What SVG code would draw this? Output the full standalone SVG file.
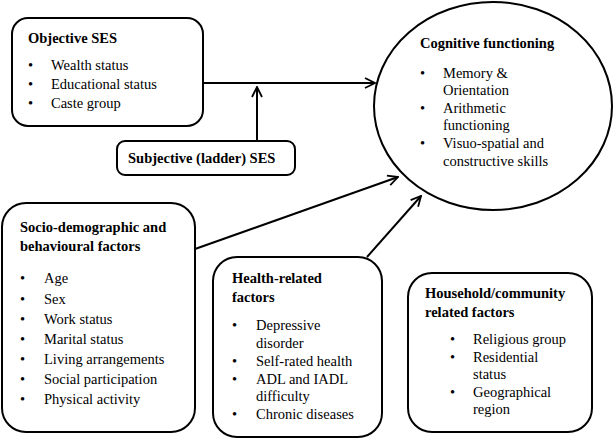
<svg xmlns="http://www.w3.org/2000/svg" width="616" height="440" viewBox="0 0 616 440">
<style>
.box{fill:#fff;stroke:#000;stroke-width:2}
text.lbl{font-family:'Liberation Serif',serif !important;font-size:14.5px;fill:#000}
text.bd{font-weight:bold}
.con{stroke:#000;stroke-width:2;fill:none}
</style>
<defs>
<marker id="arr" viewBox="0 0 12 12" refX="11" refY="6" markerWidth="12" markerHeight="12" markerUnits="userSpaceOnUse" orient="auto">
<path d="M1,1 L11,6 L1,11" fill="none" stroke="#000" stroke-width="1.8"/>
</marker>
</defs>
<rect width="616" height="440" fill="#fff"/>
<g id="connectors">
<line class="con" x1="203" y1="83" x2="375" y2="83" marker-end="url(#arr)"/>
<line class="con" x1="257" y1="141" x2="257" y2="87" marker-end="url(#arr)"/>
<line class="con" x1="195" y1="249" x2="398" y2="177" marker-end="url(#arr)"/>
<line class="con" x1="367" y1="257" x2="421" y2="196" marker-end="url(#arr)"/>
</g>
<g id="objective-ses">
<rect class="box" x="12" y="18" width="191" height="108" rx="16"/>
<text class="lbl bd" x="28" y="43">Objective SES</text>
<text class="lbl" x="28" y="70">•</text><text class="lbl" x="51" y="70">Wealth status</text>
<text class="lbl" x="28" y="89">•</text><text class="lbl" x="51" y="89">Educational status</text>
<text class="lbl" x="28" y="108">•</text><text class="lbl" x="51" y="108">Caste group</text>
</g>
<g id="subjective-ses">
<rect class="box" x="117" y="141" width="178" height="34" rx="8"/>
<text class="lbl bd" x="128" y="163">Subjective (ladder) SES</text>
</g>
<g id="cognitive">
<ellipse class="box" cx="493" cy="106" rx="119" ry="104"/>
<text class="lbl bd" x="420" y="48">Cognitive functioning</text>
<text class="lbl" x="420" y="78">•</text><text class="lbl" x="443" y="78">Memory &amp;</text>
<text class="lbl" x="443" y="95">Orientation</text>
<text class="lbl" x="420" y="113">•</text><text class="lbl" x="443" y="113">Arithmetic</text>
<text class="lbl" x="443" y="130">functioning</text>
<text class="lbl" x="420" y="148">•</text><text class="lbl" x="443" y="148">Visuo-spatial and</text>
<text class="lbl" x="443" y="166">constructive skills</text>
</g>
<g id="socio-demographic">
<rect class="box" x="2" y="203" width="193" height="229" rx="24"/>
<text class="lbl bd" x="20" y="232">Socio-demographic and</text>
<text class="lbl bd" x="20" y="251">behavioural factors</text>
<text class="lbl" x="20" y="283">•</text><text class="lbl" x="44" y="283">Age</text>
<text class="lbl" x="20" y="304">•</text><text class="lbl" x="44" y="304">Sex</text>
<text class="lbl" x="20" y="324">•</text><text class="lbl" x="44" y="324">Work status</text>
<text class="lbl" x="20" y="344">•</text><text class="lbl" x="44" y="344">Marital status</text>
<text class="lbl" x="20" y="364">•</text><text class="lbl" x="44" y="364">Living arrangements</text>
<text class="lbl" x="20" y="384">•</text><text class="lbl" x="44" y="384">Social participation</text>
<text class="lbl" x="20" y="404">•</text><text class="lbl" x="44" y="404">Physical activity</text>
</g>
<g id="health">
<rect class="box" x="213" y="257" width="169" height="180" rx="24"/>
<text class="lbl bd" x="232" y="283">Health-related</text>
<text class="lbl bd" x="232" y="302">factors</text>
<text class="lbl" x="232" y="330">•</text><text class="lbl" x="256" y="330">Depressive</text>
<text class="lbl" x="256" y="348">disorder</text>
<text class="lbl" x="232" y="366">•</text><text class="lbl" x="256" y="366">Self-rated health</text>
<text class="lbl" x="232" y="384">•</text><text class="lbl" x="256" y="384">ADL and IADL</text>
<text class="lbl" x="256" y="401">difficulty</text>
<text class="lbl" x="232" y="419">•</text><text class="lbl" x="256" y="419">Chronic diseases</text>
</g>
<g id="household">
<rect class="box" x="408" y="273" width="184" height="159" rx="24"/>
<text class="lbl bd" x="425" y="298">Household/community</text>
<text class="lbl bd" x="425" y="317">related factors</text>
<text class="lbl" x="450" y="344">•</text><text class="lbl" x="473" y="344">Religious group</text>
<text class="lbl" x="450" y="362">•</text><text class="lbl" x="473" y="362">Residential</text>
<text class="lbl" x="473" y="379">status</text>
<text class="lbl" x="450" y="397">•</text><text class="lbl" x="473" y="397">Geographical</text>
<text class="lbl" x="473" y="414">region</text>
</g>
</svg>
